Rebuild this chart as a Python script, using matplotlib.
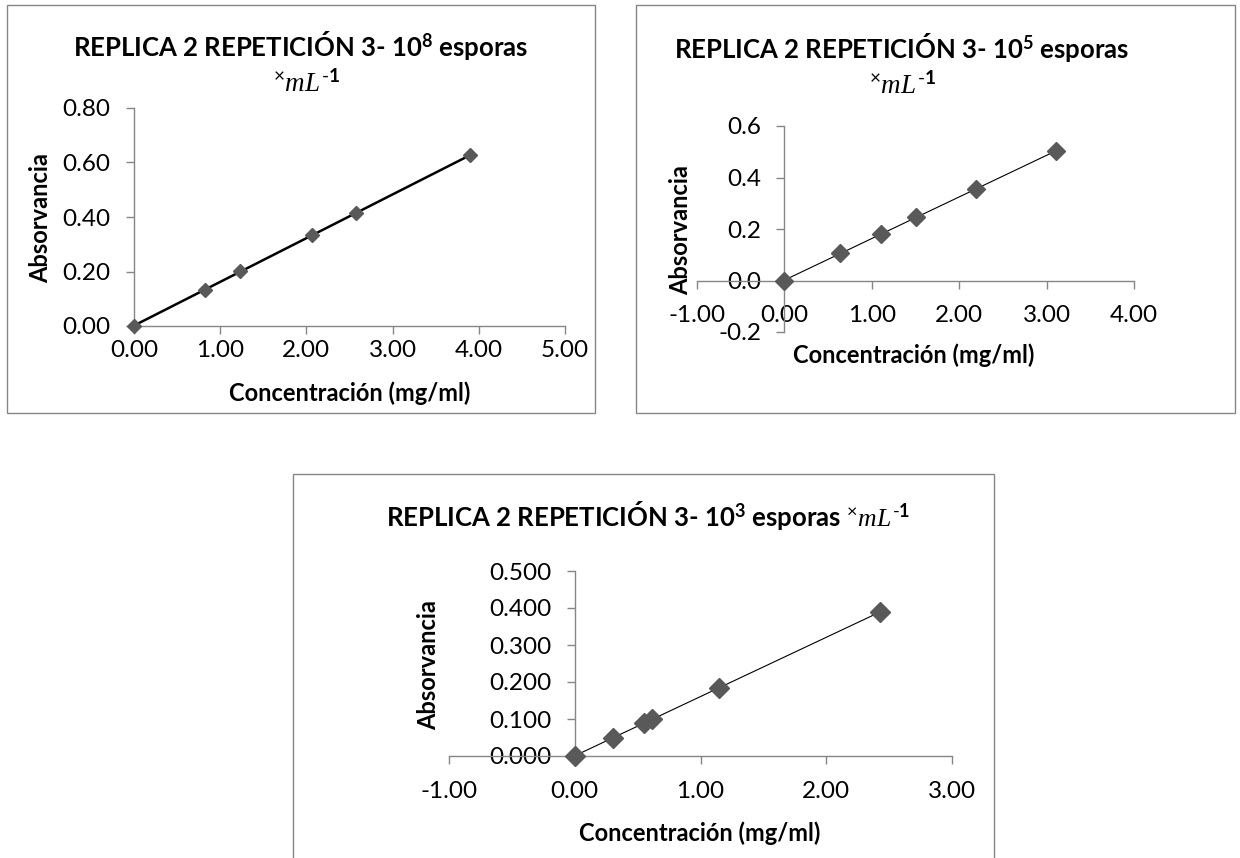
import numpy as np
import matplotlib
matplotlib.use("Agg")
import matplotlib.pyplot as plt
from matplotlib.patches import Rectangle
from matplotlib.ticker import FormatStrFormatter, MultipleLocator

# calibration curves, replica 2 repetition 3
conc_1e8 = [0.00, 0.82, 1.23, 2.07, 2.57, 3.90]
abs_1e8 = [0.000, 0.132, 0.203, 0.333, 0.413, 0.627]

conc_1e5 = [0.00, 0.64, 1.10, 1.51, 2.19, 3.11]
abs_1e5 = [0.000, 0.105, 0.180, 0.247, 0.355, 0.503]

conc_1e3 = [0.00, 0.305, 0.55, 0.616, 1.15, 2.43]
abs_1e3 = [0.000, 0.050, 0.088, 0.101, 0.183, 0.390]

plt.rcParams["font.family"] = ["Lato", "DejaVu Sans"]
plt.rcParams["mathtext.fontset"] = "custom"
plt.rcParams["mathtext.rm"] = "Lato"
plt.rcParams["mathtext.it"] = "Liberation Serif:italic"
plt.rcParams["mathtext.bf"] = "Lato:bold"

W, H = 1240, 858
GRAY = "#868686"
MARK = "#595959"
TITLE_FS = 18.5
UNIT_FS = 19.5
LABEL_FS = 17
TICK_FS = 17.5

UNIT = r"${}^{\times}\mathit{mL}^{\mathbf{\text{-}1}}$"


def fx(x):
    return x / W


def fy(y):
    return 1 - y / H


fig = plt.figure(figsize=(W / 100, H / 100), dpi=100)

# chart frames
for x0, y0, x1, y1 in [(7, 5, 595, 413), (636, 5, 1235, 413), (293, 474, 994, 900)]:
    fig.patches.append(Rectangle((fx(x0), fy(y1)), (x1 - x0) / W, (y1 - y0) / H,
                                 transform=fig.transFigure, fill=False,
                                 edgecolor=GRAY, linewidth=1.0))


def style(ax, xlim, ylim, xstep, ystep, yfmt, xpad, ypad):
    ax.set_xlim(*xlim)
    ax.set_ylim(*ylim)
    ax.xaxis.set_major_locator(MultipleLocator(xstep))
    ax.yaxis.set_major_locator(MultipleLocator(ystep))
    ax.xaxis.set_major_formatter(FormatStrFormatter("%.2f"))
    ax.yaxis.set_major_formatter(FormatStrFormatter(yfmt))
    for s in ["top", "right"]:
        ax.spines[s].set_visible(False)
    for s in ["left", "bottom"]:
        ax.spines[s].set_color(GRAY)
        ax.spines[s].set_linewidth(1.0)
    ax.tick_params(axis="both", direction="out", length=5.8, width=1.0,
                   color=GRAY, labelsize=TICK_FS)
    ax.tick_params(axis="x", pad=xpad)
    ax.tick_params(axis="y", pad=ypad)
    ax.patch.set_alpha(0)


def curve(ax, x, y, ms, lw):
    k, b = np.polyfit(x, y, 1)
    xs = np.array([min(x), max(x)])
    ax.plot(xs, k * xs + b, color="black", linewidth=lw, zorder=2)
    ax.plot(x, y, linestyle="none", marker="D", markersize=ms,
            color=MARK, zorder=3, clip_on=False)


def labels(xc, yc, yl_x, yl_y):
    fig.text(fx(xc), fy(yc), "Concentración (mg/ml)", ha="center", va="center",
             fontsize=LABEL_FS, fontweight="bold")
    fig.text(fx(yl_x), fy(yl_y), "Absorvancia", ha="center", va="center",
             rotation=90, fontsize=LABEL_FS, fontweight="bold")


# 10^8 esporas
ax1 = fig.add_axes([fx(134), fy(326), 431 / W, 218 / H])
style(ax1, (0, 5), (0, 0.8), 1, 0.2, "%.2f", 4, 11)
curve(ax1, conc_1e8, abs_1e8, 7.5, 1.8)
fig.text(fx(301), fy(45), r"REPLICA 2 REPETICIÓN 3- 10${}^{\mathbf{8}}$ esporas",
         ha="center", va="center", fontsize=TITLE_FS, fontweight="bold")
fig.text(fx(307), fy(82), UNIT, ha="center", va="center", fontsize=UNIT_FS)
labels(350, 393, 41, 218)

# 10^5 esporas
ax2 = fig.add_axes([fx(697), fy(332), 437 / W, 206 / H])
style(ax2, (-1, 4), (-0.2, 0.6), 1, 0.2, "%.1f", 12, 11)
ax2.spines["left"].set_position(("data", 0))
ax2.spines["bottom"].set_position(("data", 0))
curve(ax2, conc_1e5, abs_1e5, 9.5, 0.8)
fig.text(fx(902), fy(47), r"REPLICA 2 REPETICIÓN 3- 10${}^{\mathbf{5}}$ esporas",
         ha="center", va="center", fontsize=TITLE_FS, fontweight="bold")
fig.text(fx(903), fy(84), UNIT, ha="center", va="center", fontsize=UNIT_FS)
labels(914, 355, 681, 230)

# 10^3 esporas
ax3 = fig.add_axes([fx(449), fy(756), 503 / W, 185 / H])
style(ax3, (-1, 3), (0, 0.5), 1, 0.1, "%.3f", 12, 11)
ax3.spines["left"].set_position(("data", 0))
curve(ax3, conc_1e3, abs_1e3, 10, 0.8)
fig.text(fx(648), fy(515),
         r"REPLICA 2 REPETICIÓN 3- 10${}^{\mathbf{3}}$ esporas " + UNIT,
         ha="center", va="center", fontsize=TITLE_FS, fontweight="bold")
labels(700, 833, 429, 665)

fig.savefig("out.png", dpi=100, facecolor="white")
